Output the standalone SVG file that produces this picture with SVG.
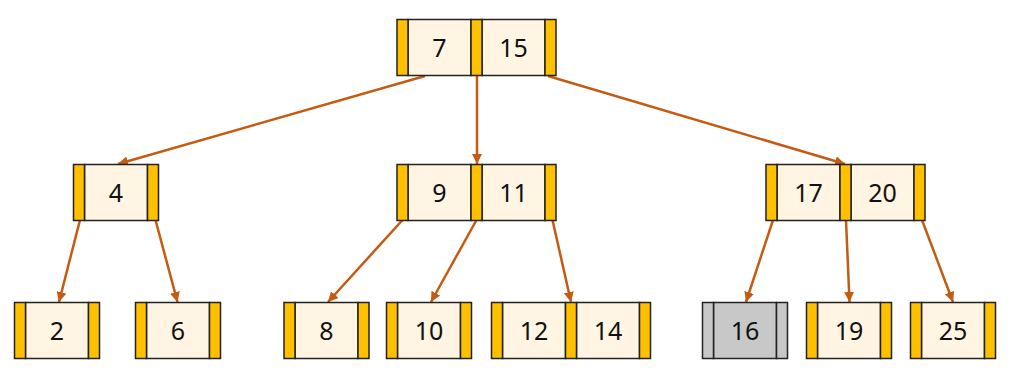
<svg xmlns="http://www.w3.org/2000/svg" width="1012" height="376" viewBox="0 0 1012 376">
<defs>
<style>
.bar{fill:#FFC000;stroke:#222;stroke-width:1.5}
.cell{fill:#FFF5E2;stroke:#222;stroke-width:1.5}
.gbar{fill:#C8C8C8;stroke:#222;stroke-width:1.5}
.gcell{fill:#C8C8C8;stroke:#222;stroke-width:1.5}
.key{font-family:"Noto Sans","Liberation Sans",sans-serif;font-size:25px;fill:#111;text-anchor:middle}
.edge{stroke:#C55A11;stroke-width:2.5;fill:none;marker-end:url(#ah)}
</style>
<marker id="ah" viewBox="0 0 10 10" refX="10" refY="5" markerWidth="4" markerHeight="4" orient="auto" markerUnits="strokeWidth">
<path d="M0,0 L10,5 L0,10 z" fill="#C55A11"/>
</marker>
</defs>
<g id="connectors">
<line class="edge" x1="425" y1="76" x2="118" y2="164"/>
<line class="edge" x1="477" y1="76" x2="477" y2="164"/>
<line class="edge" x1="548" y1="76" x2="845" y2="164"/>
<line class="edge" x1="80" y1="220" x2="59" y2="302"/>
<line class="edge" x1="155.5" y1="220" x2="177.5" y2="302"/>
<line class="edge" x1="402.5" y1="220" x2="328" y2="302"/>
<line class="edge" x1="476.5" y1="220" x2="431" y2="302"/>
<line class="edge" x1="552.5" y1="220" x2="571" y2="302"/>
<line class="edge" x1="773" y1="220" x2="746" y2="302"/>
<line class="edge" x1="846" y1="220" x2="849.5" y2="302"/>
<line class="edge" x1="922" y1="220" x2="953" y2="302"/>
</g>
<g id="root">
<rect class="cell" x="408" y="19.5" width="63" height="56"/>
<rect class="cell" x="482" y="19.5" width="63" height="56"/>
<rect class="bar" x="397" y="19.5" width="11" height="56"/>
<rect class="bar" x="471" y="19.5" width="11" height="56"/>
<rect class="bar" x="545" y="19.5" width="11" height="56"/>
<text class="key" x="439.5" y="56.5">7</text>
<text class="key" x="513.5" y="56.5">15</text>
</g>
<g id="n4">
<rect class="cell" x="84.5" y="164.5" width="63" height="56"/>
<rect class="bar" x="73.5" y="164.5" width="11" height="56"/>
<rect class="bar" x="147.5" y="164.5" width="11" height="56"/>
<text class="key" x="116" y="201.5">4</text>
</g>
<g id="n9_11">
<rect class="cell" x="408" y="164.5" width="63" height="56"/>
<rect class="cell" x="482" y="164.5" width="63" height="56"/>
<rect class="bar" x="397" y="164.5" width="11" height="56"/>
<rect class="bar" x="471" y="164.5" width="11" height="56"/>
<rect class="bar" x="545" y="164.5" width="11" height="56"/>
<text class="key" x="439.5" y="201.5">9</text>
<text class="key" x="513.5" y="201.5">11</text>
</g>
<g id="n17_20">
<rect class="cell" x="777" y="164.5" width="63" height="56"/>
<rect class="cell" x="851" y="164.5" width="63" height="56"/>
<rect class="bar" x="766" y="164.5" width="11" height="56"/>
<rect class="bar" x="840" y="164.5" width="11" height="56"/>
<rect class="bar" x="914" y="164.5" width="11" height="56"/>
<text class="key" x="808.5" y="201.5">17</text>
<text class="key" x="882.5" y="201.5">20</text>
</g>
<g id="n2">
<rect class="cell" x="25.5" y="302.5" width="63" height="56"/>
<rect class="bar" x="14.5" y="302.5" width="11" height="56"/>
<rect class="bar" x="88.5" y="302.5" width="11" height="56"/>
<text class="key" x="57" y="339.5">2</text>
</g>
<g id="n6">
<rect class="cell" x="146.5" y="302.5" width="63" height="56"/>
<rect class="bar" x="135.5" y="302.5" width="11" height="56"/>
<rect class="bar" x="209.5" y="302.5" width="11" height="56"/>
<text class="key" x="178" y="339.5">6</text>
</g>
<g id="n8">
<rect class="cell" x="295" y="302.5" width="63" height="56"/>
<rect class="bar" x="284" y="302.5" width="11" height="56"/>
<rect class="bar" x="358" y="302.5" width="11" height="56"/>
<text class="key" x="326.5" y="339.5">8</text>
</g>
<g id="n10">
<rect class="cell" x="397.5" y="302.5" width="63" height="56"/>
<rect class="bar" x="386.5" y="302.5" width="11" height="56"/>
<rect class="bar" x="460.5" y="302.5" width="11" height="56"/>
<text class="key" x="429" y="339.5">10</text>
</g>
<g id="n12_14">
<rect class="cell" x="502.5" y="302.5" width="63" height="56"/>
<rect class="cell" x="576.5" y="302.5" width="63" height="56"/>
<rect class="bar" x="491.5" y="302.5" width="11" height="56"/>
<rect class="bar" x="565.5" y="302.5" width="11" height="56"/>
<rect class="bar" x="639.5" y="302.5" width="11" height="56"/>
<text class="key" x="534" y="339.5">12</text>
<text class="key" x="608" y="339.5">14</text>
</g>
<g id="n16">
<rect class="gcell" x="713.5" y="302.5" width="63" height="56"/>
<rect class="gbar" x="702.5" y="302.5" width="11" height="56"/>
<rect class="gbar" x="776.5" y="302.5" width="11" height="56"/>
<text class="key" x="745" y="339.5">16</text>
</g>
<g id="n19">
<rect class="cell" x="817.5" y="302.5" width="63" height="56"/>
<rect class="bar" x="806.5" y="302.5" width="11" height="56"/>
<rect class="bar" x="880.5" y="302.5" width="11" height="56"/>
<text class="key" x="849" y="339.5">19</text>
</g>
<g id="n25">
<rect class="cell" x="921.5" y="302.5" width="63" height="56"/>
<rect class="bar" x="910.5" y="302.5" width="11" height="56"/>
<rect class="bar" x="984.5" y="302.5" width="11" height="56"/>
<text class="key" x="953" y="339.5">25</text>
</g>
</svg>
